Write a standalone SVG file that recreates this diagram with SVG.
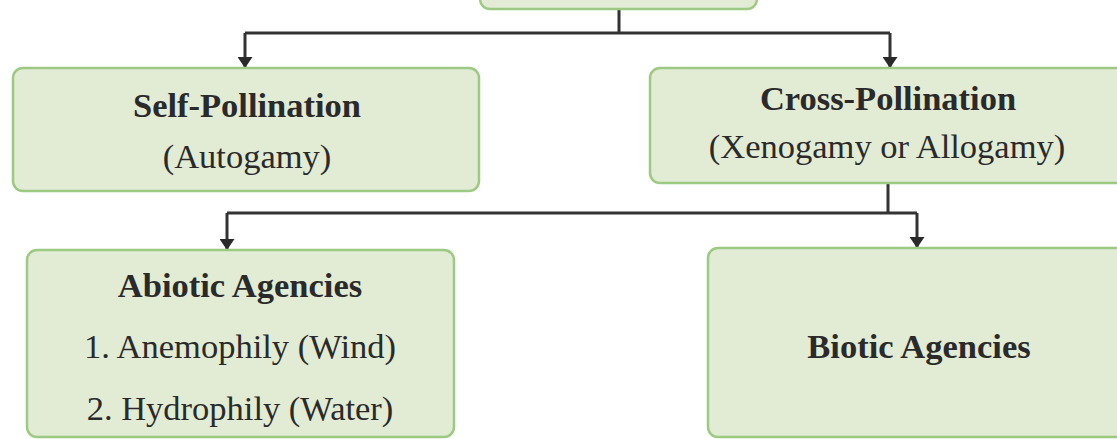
<svg xmlns="http://www.w3.org/2000/svg" width="1117" height="439" viewBox="0 0 1117 439">
<style>
.box{fill:#e2ebd4;stroke:#9dca83;stroke-width:2.5}
.t{font-family:"Liberation Serif","Times New Roman",serif;font-size:34.5px;fill:#2a2a2a;text-anchor:middle}
.b{font-weight:bold}
.ln{fill:none;stroke:#333;stroke-width:3}
</style>
<defs>
<marker id="ah" viewBox="0 0 11 15" refX="10" refY="7.5" markerWidth="11" markerHeight="15" markerUnits="userSpaceOnUse" orient="auto">
<path d="M0 0 L11 7.5 L0 15 Z" fill="#2a2a2a"/>
</marker>
</defs>
<rect width="1117" height="439" fill="#ffffff"/>
<g id="connectors">
<path class="ln" d="M619 9 V33 M245 33 H890"/>
<path class="ln" d="M245 33 V67" marker-end="url(#ah)"/>
<path class="ln" d="M890 33 V67" marker-end="url(#ah)"/>
<path class="ln" d="M888 183 V213 M227 213 H917"/>
<path class="ln" d="M227 213 V249" marker-end="url(#ah)"/>
<path class="ln" d="M917 213 V247" marker-end="url(#ah)"/>
</g>
<g id="pollination">
<rect class="box" x="480" y="-40" width="277" height="49" rx="10"/>
</g>
<g id="self-pollination">
<rect class="box" x="13" y="68" width="466" height="123" rx="10"/>
<text class="t b" x="247" y="117">Self-Pollination</text>
<text class="t" x="247" y="168">(Autogamy)</text>
</g>
<g id="cross-pollination">
<rect class="box" x="650" y="68" width="480" height="115" rx="10"/>
<text class="t b" x="888" y="110">Cross-Pollination</text>
<text class="t" x="887" y="158">(Xenogamy or Allogamy)</text>
</g>
<g id="abiotic">
<rect class="box" x="27" y="250" width="427" height="187" rx="10"/>
<text class="t b" x="240" y="297">Abiotic Agencies</text>
<text class="t" x="240" y="358">1. Anemophily (Wind)</text>
<text class="t" x="240" y="420">2. Hydrophily (Water)</text>
</g>
<g id="biotic">
<rect class="box" x="708" y="248" width="420" height="189" rx="10"/>
<text class="t b" x="919" y="358">Biotic Agencies</text>
</g>
</svg>
